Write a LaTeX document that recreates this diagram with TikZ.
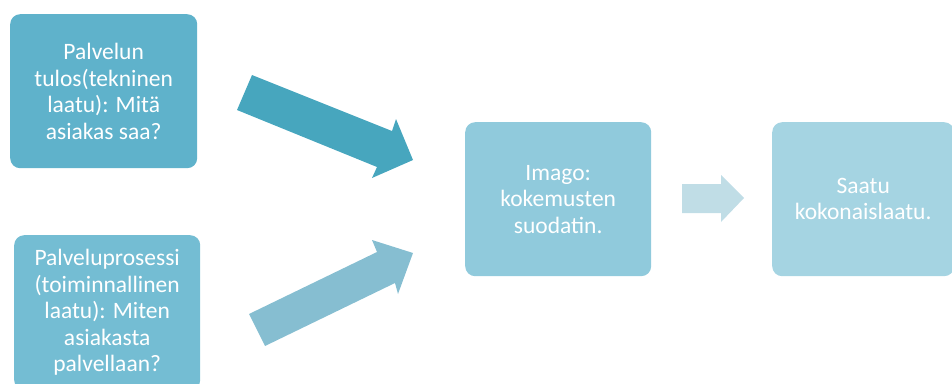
\documentclass[tikz,border=0pt]{standalone}
\usepackage{fontspec}
\setmainfont{Carlito}
\definecolor{boxA}{HTML}{5FB2CB}
\definecolor{boxB}{HTML}{74BDD3}
\definecolor{boxC}{HTML}{90CADC}
\definecolor{boxD}{HTML}{A5D4E2}
\definecolor{arrA}{HTML}{47A6BE}
\definecolor{arrB}{HTML}{86BED1}
\definecolor{arrC}{HTML}{C0DDE6}
\begin{document}
\begin{tikzpicture}[x=1pt,y=-1pt,
  box/.style={rounded corners=10pt, inner sep=0pt, anchor=north west,
    text=white, align=center, font=\fontsize{23.5}{26.5}\selectfont}]
\useasboundingbox (0,0) rectangle (952,383);
\clip (0,0) rectangle (952,383);
% boxes
\node[box, fill=boxA, minimum width=187pt, minimum height=154pt] (tulos) at (10,14)
  {Palvelun\\tulos(tekninen\\laatu): Mitä\\asiakas saa?};
\node[box, fill=boxB, minimum width=186pt, minimum height=155pt] (prosessi) at (14,235)
  {Palveluprosessi\\(toiminnallinen\\laatu): Miten\\asiakasta\\palvellaan?};
\node[box, fill=boxC, minimum width=186pt, minimum height=154pt] (imago) at (465,122)
  {Imago:\\kokemusten\\suodatin.};
\node[box, fill=boxD, minimum width=182pt, minimum height=154pt] (saatu) at (772,122)
  {Saatu\\kokonaislaatu.};
% block arrows
\fill[arrA] (252,75) -- (392,131) -- (396,119) -- (413,160) -- (372,178) -- (377,167) -- (237,110) -- cycle;
\fill[arrB] (249,314) -- (377,252) -- (372,240) -- (413,253) -- (398,294) -- (395,283) -- (265,346) -- cycle;
\fill[arrC] (682,184) -- (721,184) -- (721,175) -- (744,198) -- (721,222) -- (721,213) -- (682,213) -- cycle;
\end{tikzpicture}
\end{document}
